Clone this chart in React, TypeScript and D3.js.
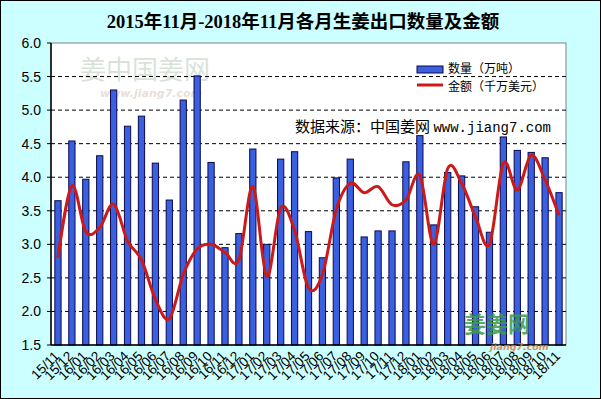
import React from "react";
import * as d3 from "d3";

const months = [
  "15/11", "15/12",
  "16/01", "16/02", "16/03", "16/04", "16/05", "16/06", "16/07", "16/08", "16/09", "16/10", "16/11", "16/12",
  "17/01", "17/02", "17/03", "17/04", "17/05", "17/06", "17/07", "17/08", "17/09", "17/10", "17/11", "17/12",
  "18/01", "18/02", "18/03", "18/04", "18/05", "18/06", "18/07", "18/08", "18/09", "18/10", "18/11",
];

const quantity = [
  3.65, 4.54,
  3.97, 4.32, 5.30, 4.76, 4.91, 4.21, 3.66, 5.15, 5.51, 4.22, 2.95, 3.16,
  4.42, 3.00, 4.27, 4.38, 3.19, 2.80, 3.99, 4.27, 3.11, 3.20, 3.20, 4.23,
  4.62, 3.29, 4.07, 4.02, 3.56, 3.18, 4.60, 4.40, 4.37, 4.29, 3.77,
];

const amount = [
  2.80, 3.87,
  3.19, 3.25, 3.60, 3.05, 2.77, 2.18, 1.89, 2.55, 2.93, 3.00, 2.88, 2.77,
  3.86, 2.52, 3.54, 3.21, 2.35, 2.55, 3.52, 3.91, 3.77, 3.86, 3.59, 3.66,
  4.03, 3.00, 4.13, 3.91, 3.41, 3.00, 4.21, 3.81, 4.33, 3.96, 3.43,
];

const yTicks = [1.5, 2.0, 2.5, 3.0, 3.5, 4.0, 4.5, 5.0, 5.5, 6.0];

const title = "2015年11月-2018年11月各月生姜出口数量及金额";
const legendQty = "数量（万吨）";
const legendAmt = "金额（千万美元）";
const sourceCn = "数据来源：中国姜网 ";
const sourceUrl = "www.jiang7.com";

const W = 601;
const H = 399;
const plot = { left: 51, right: 566, top: 43, bottom: 345 };

export default function App() {
  const x = d3
    .scaleBand<string>()
    .domain(months)
    .range([plot.left, plot.right])
    .paddingInner(0.55)
    .paddingOuter(0.275);
  const y = d3.scaleLinear().domain([1.5, 6.0]).range([plot.bottom, plot.top]);

  const cx = (i: number) => (x(months[i]) as number) + x.bandwidth() / 2;

  const line = d3
    .line<number>()
    .x((_, i) => cx(i))
    .y((d) => y(d))
    .curve(d3.curveCardinal.tension(0));

  const cjk = "'Noto Sans CJK SC', sans-serif";

  return (
    <svg
      width={W}
      height={H}
      style={{ position: "absolute", left: 0, top: 0, display: "block" }}
    >
      <rect x={0.5} y={0.5} width={W - 1} height={H - 1} fill="#CCFFFF" stroke="#000" strokeWidth={1} />
      <text
        x={303}
        y={28}
        textAnchor="middle"
        fontFamily="'Liberation Serif', 'Noto Sans CJK SC', serif"
        fontWeight="bold"
        fontSize={18.5}
        fill="#000"
      >
        {title}
      </text>

      <rect
        x={plot.left}
        y={plot.top}
        width={plot.right - plot.left}
        height={plot.bottom - plot.top}
        fill="#FFFFFF"
        stroke="#808080"
        strokeWidth={1}
      />

      {/* watermark top-left */}
      <g opacity={0.25}>
        <text x={80} y={79} fontFamily={cjk} fontSize={26} fill="#6a8f6a">
          姜中国姜网
        </text>
        <text x={100} y={97} fontFamily="'DejaVu Sans', sans-serif" fontStyle="italic" fontWeight="bold" fontSize={11} fill="#b08060">
          www.jiang7.com
        </text>
      </g>

      {/* gridlines */}
      {yTicks.slice(1, -1).map((t) => (
        <line
          key={t}
          x1={plot.left}
          x2={plot.right}
          y1={y(t)}
          y2={y(t)}
          stroke="#000"
          strokeWidth={1}
          strokeDasharray="4,3"
        />
      ))}

      {/* bars */}
      {quantity.map((v, i) => (
        <rect
          key={months[i]}
          x={x(months[i]) as number}
          y={y(v)}
          width={x.bandwidth()}
          height={plot.bottom - y(v)}
          fill="#3A5FDF"
          stroke="#0A0A50"
          strokeWidth={1}
        />
      ))}

      {/* line */}
      <path d={line(amount) || ""} fill="none" stroke="#CC1A1A" strokeWidth={3} strokeLinejoin="round" />

      {/* axes */}
      <line x1={plot.left} x2={plot.left} y1={plot.top} y2={plot.bottom} stroke="#000" strokeWidth={1.5} />
      <line x1={plot.left} x2={plot.right} y1={plot.bottom} y2={plot.bottom} stroke="#000" strokeWidth={1.5} />
      {yTicks.map((t) => (
        <g key={t}>
          <line x1={plot.left - 4} x2={plot.left} y1={y(t)} y2={y(t)} stroke="#000" />
          <text
            x={41}
            y={y(t) + 5}
            textAnchor="end"
            fontFamily="'Liberation Sans', Arial, sans-serif"
            fontSize={14}
            fill="#000"
          >
            {t.toFixed(1)}
          </text>
        </g>
      ))}
      {months.map((m, i) => (
        <text
          key={m}
          transform={`translate(${cx(i) + 2},${plot.bottom + 12}) rotate(-45)`}
          textAnchor="end"
          fontFamily="'Liberation Sans', Arial, sans-serif"
          fontSize={13.5}
          fill="#000"
        >
          {m}
        </text>
      ))}

      {/* legend */}
      <rect x={417} y={66} width={26} height={7} fill="#3A5FDF" stroke="#0A0A50" strokeWidth={1} />
      <text x={448} y={73} fontFamily={cjk} fontSize={12} fill="#000">
        {legendQty}
      </text>
      <line x1={417} x2={443} y1={85} y2={85} stroke="#CC1A1A" strokeWidth={3} />
      <text x={448} y={91} fontFamily={cjk} fontSize={12} fill="#000">
        {legendAmt}
      </text>

      {/* source */}
      <text x={295} y={132} fontFamily={cjk} fontSize={15} fill="#000">
        {sourceCn}
        <tspan fontFamily="'Liberation Mono', monospace" fontSize={14}>
          {sourceUrl}
        </tspan>
      </text>

      {/* watermark bottom-right */}
      <g opacity={0.85}>
        <text x={464} y={332} fontFamily={cjk} fontWeight="bold" fontSize={22} fill="#3f9a4a">
          姜姜网
        </text>
        <text x={490} y={350} fontFamily="'DejaVu Sans', sans-serif" fontStyle="italic" fontWeight="bold" fontSize={9.5} fill="#e0803a">
          jiang7.com
        </text>
      </g>
    </svg>
  );
}
